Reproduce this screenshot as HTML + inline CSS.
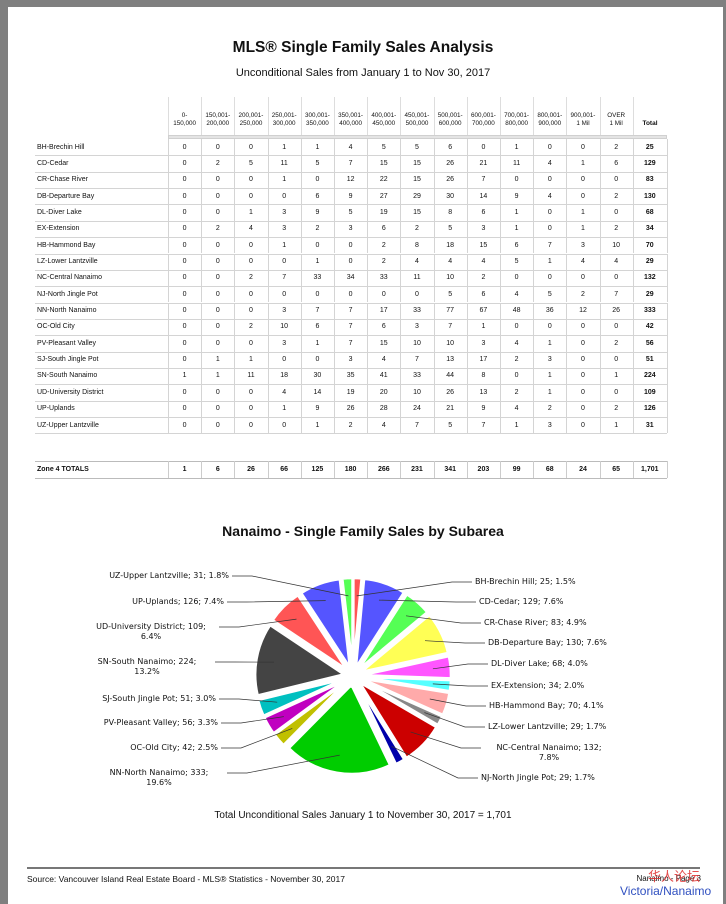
<!DOCTYPE html>
<html><head><meta charset="utf-8"><style>
body{margin:0;width:726px;height:904px;background:#fff;position:relative;overflow:hidden;font-family:"Liberation Sans",Arial,sans-serif;color:#111}
.a{position:absolute;white-space:nowrap}
#g1{left:0;top:0;width:8px;height:904px;background:#7f7f7f}
#g2{left:0;top:0;width:726px;height:7px;background:#7f7f7f}
#g3{left:723px;top:0;width:3px;height:904px;background:#7f7f7f}
.c{text-align:center}
.lb{font-family:"DejaVu Sans",sans-serif;font-size:8px;color:#111;line-height:10px}
</style></head><body>
<div class="a" id="g1"></div><div class="a" id="g2"></div><div class="a" id="g3"></div>
<div class="a c" style="left:0;width:726px;top:39px;font-size:15.5px;font-weight:bold">MLS® Single Family Sales Analysis</div>
<div class="a c" style="left:0;width:726px;top:67px;font-size:11px">Unconditional Sales from January 1 to Nov 30, 2017</div>
<div id="tbl"></div>
<div class="a c" style="left:0;width:726px;top:523px;font-size:14px;font-weight:bold">Nanaimo - Single Family Sales by Subarea</div>
<svg class="a" style="left:0;top:540px" width="726" height="270" id="pie"></svg>
<div id="labs"></div>
<div class="a c" style="left:0;width:726px;top:810px;font-size:10px">Total Unconditional Sales January 1 to November 30, 2017 = 1,701</div>
<div class="a" style="left:27px;top:867px;width:673px;height:2px;background:#777"></div>
<div class="a" style="left:27px;top:874px;font-size:8.5px">Source: Vancouver Island Real Estate Board - MLS® Statistics - November 30, 2017</div>
<div class="a" style="right:25px;top:874px;font-size:8px">Nanaimo - Page 3</div>
<div class="a" style="left:648px;top:866px;font-size:13px;color:#e03030;font-family:'Noto Sans CJK SC',sans-serif;opacity:.85">华人论坛</div>
<div class="a" style="left:620px;top:884px;font-size:12px;color:#3050c0">Victoria/Nanaimo</div>
<script>
var hdr=["0-<br>150,000","150,001-<br>200,000","200,001-<br>250,000","250,001-<br>300,000","300,001-<br>350,000","350,001-<br>400,000","400,001-<br>450,000","450,001-<br>500,000","500,001-<br>600,000","600,001-<br>700,000","700,001-<br>800,000","800,001-<br>900,000","900,001-<br>1 Mil","OVER<br>1 Mil"];
var rows=[["BH-Brechin Hill",0,0,0,1,1,4,5,5,6,0,1,0,0,2,25],["CD-Cedar",0,2,5,11,5,7,15,15,26,21,11,4,1,6,129],["CR-Chase River",0,0,0,1,0,12,22,15,26,7,0,0,0,0,83],["DB-Departure Bay",0,0,0,0,6,9,27,29,30,14,9,4,0,2,130],["DL-Diver Lake",0,0,1,3,9,5,19,15,8,6,1,0,1,0,68],["EX-Extension",0,2,4,3,2,3,6,2,5,3,1,0,1,2,34],["HB-Hammond Bay",0,0,0,1,0,0,2,8,18,15,6,7,3,10,70],["LZ-Lower Lantzville",0,0,0,0,1,0,2,4,4,4,5,1,4,4,29],["NC-Central Nanaimo",0,0,2,7,33,34,33,11,10,2,0,0,0,0,132],["NJ-North Jingle Pot",0,0,0,0,0,0,0,0,5,6,4,5,2,7,29],["NN-North Nanaimo",0,0,0,3,7,7,17,33,77,67,48,36,12,26,333],["OC-Old City",0,0,2,10,6,7,6,3,7,1,0,0,0,0,42],["PV-Pleasant Valley",0,0,0,3,1,7,15,10,10,3,4,1,0,2,56],["SJ-South Jingle Pot",0,1,1,0,0,3,4,7,13,17,2,3,0,0,51],["SN-South Nanaimo",1,1,11,18,30,35,41,33,44,8,0,1,0,1,224],["UD-University District",0,0,0,4,14,19,20,10,26,13,2,1,0,0,109],["UP-Uplands",0,0,0,1,9,26,28,24,21,9,4,2,0,2,126],["UZ-Upper Lantzville",0,0,0,0,1,2,4,7,5,7,1,3,0,1,31]];
var tot=[1,6,26,66,125,180,266,231,341,203,99,68,24,65,"1,701"];
var h="",X0=168,W=33.2;
function cx(i){return X0+i*W}
for(var i=0;i<15;i++){h+='<div class="a" style="left:'+cx(i).toFixed(1)+'px;top:97px;width:1px;height:40px;background:#ddd"></div>';}
for(var i=0;i<14;i++){h+='<div class="a c" style="left:'+cx(i).toFixed(1)+'px;width:'+W+'px;top:112px;font-size:6.3px;line-height:8px">'+hdr[i]+'</div>';}
h+='<div class="a c" style="left:633px;width:34px;top:120px;font-size:6.5px;font-weight:bold">Total</div>';
h+='<div class="a" style="left:168px;top:135px;width:499px;height:4px;background:#e4e4e4;border:1px solid #d0d0d0;box-sizing:border-box"></div>';
var top0=139,RH=16.35;
for(var r=0;r<rows.length;r++){var y=top0+r*RH;
 h+='<div class="a" style="left:35px;top:'+(y+RH).toFixed(1)+'px;width:632px;height:1px;background:#d4d4d4"></div>';
 h+='<div class="a" style="left:37px;top:'+(y+4.5).toFixed(1)+'px;font-size:7px">'+rows[r][0]+'</div>';
 for(var i=0;i<15;i++){h+='<div class="a" style="left:'+cx(i).toFixed(1)+'px;top:'+y.toFixed(1)+'px;width:1px;height:'+RH+'px;background:#d4d4d4"></div>';
  var w=i==14?34:W;h+='<div class="a c" style="left:'+cx(i).toFixed(1)+'px;width:'+w+'px;top:'+(y+4.5).toFixed(1)+'px;font-size:7px;'+(i==14?'font-weight:bold':'')+'">'+rows[r][i+1]+'</div>';}
 h+='<div class="a" style="left:667px;top:'+y.toFixed(1)+'px;width:1px;height:'+RH+'px;background:#d4d4d4"></div>';}
var ty=461;
h+='<div class="a" style="left:35px;top:'+ty+'px;width:632px;height:1px;background:#bbb"></div><div class="a" style="left:35px;top:'+(ty+17)+'px;width:632px;height:1px;background:#bbb"></div>';
h+='<div class="a" style="left:37px;top:'+(ty+5)+'px;font-size:7px;font-weight:bold">Zone 4 TOTALS</div>';
for(var i=0;i<15;i++){h+='<div class="a" style="left:'+cx(i).toFixed(1)+'px;top:'+ty+'px;width:1px;height:17px;background:#ccc"></div>';
 var w=i==14?34:W;h+='<div class="a c" style="left:'+cx(i).toFixed(1)+'px;width:'+w+'px;top:'+(ty+5)+'px;font-size:7px;font-weight:bold">'+tot[i]+'</div>';}
h+='<div class="a" style="left:667px;top:'+ty+'px;width:1px;height:17px;background:#ccc"></div>';
document.getElementById('tbl').innerHTML=h;

var vals=[25,129,83,130,68,34,70,29,132,29,333,42,56,51,224,109,126,31];
var cols=["#ff5555","#5555ff","#55ff55","#ffff55","#ff55ff","#55ffff","#ffaaaa","#888888","#cc0000","#0000aa","#00cc00","#c0c000","#c000c0","#00c0c0","#444444","#ff5555","#5555ff","#55ff55"];
var labs=[["BH-Brechin Hill; 25; 1.5%",475,582,"L"],["CD-Cedar; 129; 7.6%",479,602,"L"],["CR-Chase River; 83; 4.9%",484,623,"L"],["DB-Departure Bay; 130; 7.6%",488,643,"L"],["DL-Diver Lake; 68; 4.0%",491,664,"L"],["EX-Extension; 34; 2.0%",491,686,"L"],["HB-Hammond Bay; 70; 4.1%",489,706,"L"],["LZ-Lower Lantzville; 29; 1.7%",488,727,"L"],["NC-Central Nanaimo; 132;<br>7.8%",484,748,"L"],["NJ-North Jingle Pot; 29; 1.7%",481,778,"L"],["NN-North Nanaimo; 333;<br>19.6%",224,773,"R"],["OC-Old City; 42; 2.5%",218,748,"R"],["PV-Pleasant Valley; 56; 3.3%",218,723,"R"],["SJ-South Jingle Pot; 51; 3.0%",216,699,"R"],["SN-South Nanaimo; 224;<br>13.2%",212,662,"R"],["UD-University District; 109;<br>6.4%",216,627,"R"],["UP-Uplands; 126; 7.4%",224,602,"R"],["UZ-Upper Lantzville; 31; 1.8%",229,576,"R"]];
var CX=353,CY=676-540,R=89,OFF=9,T=1701,a=0,s="",ln="",lh="";
for(var k=0;k<vals.length;k++){var a1=a+vals[k]/T*2*Math.PI,m=(a+a1)/2;
 var ox=CX+OFF*Math.sin(m),oy=CY-OFF*Math.cos(m);
 var x0=ox+R*Math.sin(a),y0=oy-R*Math.cos(a),x1=ox+R*Math.sin(a1),y1=oy-R*Math.cos(a1);
 s+='<path d="M'+ox.toFixed(1)+','+oy.toFixed(1)+'L'+x0.toFixed(1)+','+y0.toFixed(1)+'A'+R+','+R+' 0 '+((a1-a)>Math.PI?1:0)+' 1 '+x1.toFixed(1)+','+y1.toFixed(1)+'Z" fill="'+cols[k]+'" stroke="#fff" stroke-width="2.5" stroke-linejoin="round"/>';
 var px=ox+0.8*R*Math.sin(m),py=oy-0.8*R*Math.cos(m);
 var L=labs[k],ly=L[2]-540,two=L[0].indexOf('<br>')>=0;
 var lx=L[3]=="L"?L[1]-3:L[1]+3;
 var kx=L[3]=="L"?lx-20:lx+20;
 ln+='<polyline points="'+lx+','+ly+' '+kx+','+ly+' '+px.toFixed(1)+','+py.toFixed(1)+'" fill="none" stroke="#333" stroke-width="0.7"/>';
 if(L[3]=="L"){lh+='<div class="a lb'+(two?' c':'')+'" style="left:'+L[1]+'px;top:'+(L[2]-5)+'px;'+(two?'width:130px;':'')+'">'+L[0]+'</div>';}
 else{lh+='<div class="a lb c" style="right:'+(726-L[1])+'px;top:'+(L[2]-5)+'px;'+(two?'width:130px;':'')+'">'+L[0]+'</div>';}
 a=a1;}
document.getElementById('pie').innerHTML=s+'<circle cx="'+CX+'" cy="'+CY+'" r="12" fill="#fff"/>'+ln;
document.getElementById('labs').innerHTML=lh;
</script>
</body></html>
